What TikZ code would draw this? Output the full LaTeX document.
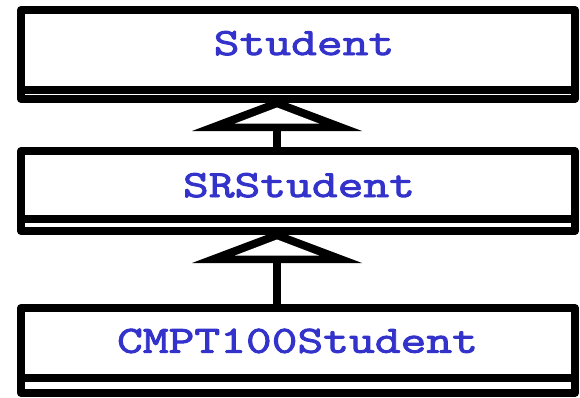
\documentclass[tikz,border=0pt]{standalone}
\usepackage{fontspec}
\newfontfamily\codefont[FakeBold=2.5,FakeStretch=1.3]{Latin Modern Mono}
\usetikzlibrary{calc}
\definecolor{classblue}{RGB}{51,51,204}
\tikzset{
  classbox/.style={rectangle, draw=black, line width=8pt, line join=round,
    minimum width=554pt, inner sep=0pt, outer sep=0pt},
  divider/.style={line width=8pt},
  classname/.style={font=\codefont\fontsize{38.5}{38.5}\selectfont,
    text=classblue, anchor=base, inner sep=0pt},
  stem/.style={line width=8pt},
}
\begin{document}
\begin{tikzpicture}[x=1pt,y=-1pt]
\useasboundingbox (0,0) rectangle (580,397);

% class boxes
\node[classbox, minimum height=89pt] (c1) at (298,54.5) {};
\node[classbox, minimum height=80pt] (c2) at (298,191) {};
\node[classbox, minimum height=85pt] (c3) at (298,350.5) {};

% compartment dividers
\draw[divider] ($(c1.south west)+(0,-9)$) -- ($(c1.south east)+(0,-9)$);
\draw[divider] ($(c2.south west)+(0,-12.5)$) -- ($(c2.south east)+(0,-12.5)$);
\draw[divider] ($(c3.south west)+(0,-15.5)$) -- ($(c3.south east)+(0,-15.5)$);

% class names
\node[classname] (n1) at (304,55) {Student};
\node[classname] (n2) at (299,197) {SRStudent};
\node[classname] (n3) at (297.5,352.7) {CMPT100Student};

% generalization arrows (tip on the parent's lower edge)
\coordinate (a1) at ($(c1.south)+(-21,0)$);
\coordinate (a2) at ($(c2.south)+(-21,0)$);

\draw[stem] (c2.north -| a1) -- ($(a1)+(0,32)$);
\fill[black] (a1) -- ++(-85,32) -- ++(170,0) -- cycle;
\fill[white] ($(a1)+(0,8.5)$) -- ++(-42,16) -- ++(84,0) -- cycle;

\draw[stem] (c3.north -| a2) -- ($(a2)+(0,32)$);
\fill[black] (a2) -- ++(-85,32) -- ++(170,0) -- cycle;
\fill[white] ($(a2)+(0,8.5)$) -- ++(-42,16) -- ++(84,0) -- cycle;
\end{tikzpicture}
\end{document}
